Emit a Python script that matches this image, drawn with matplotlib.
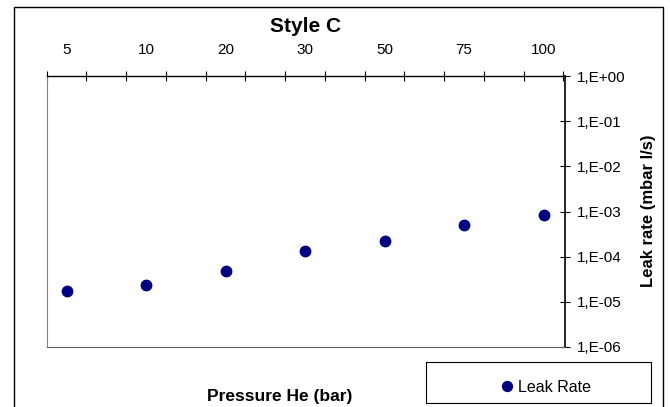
import numpy as np
import matplotlib
matplotlib.use("Agg")
import matplotlib.pyplot as plt
from matplotlib.patches import Rectangle
from matplotlib.ticker import FixedLocator, FuncFormatter, NullLocator

plt.rcParams['font.family'] = ['Liberation Sans', 'DejaVu Sans']

# data
pressures = ['5', '10', '20', '30', '50', '75', '100']
leak_rate = [1.71e-5, 2.41e-5, 4.73e-5, 1.31e-4, 2.18e-4, 5.08e-4, 8.17e-4]
decades = [1e-6, 1e-5, 1e-4, 1e-3, 1e-2, 1e-1, 1e0]

W, H = 670, 407
fig = plt.figure(figsize=(W / 100, H / 100), dpi=100)

# outer chart border
fig.patches.append(Rectangle((14 / W, -0.02), (663 - 14) / W, 1 - 7 / H + 0.02,
                             transform=fig.transFigure, fill=False,
                             edgecolor='black', linewidth=1.0))

ax = fig.add_axes([46.7 / W, 60 / H, (565 - 46.7) / W, (347 - 76) / H])
x = np.arange(len(pressures))
ax.plot(x, leak_rate, 'o', color='#000080', markersize=7.5, linestyle='none',
        label='Leak Rate', clip_on=False)

ax.set_yscale('log')
ax.set_ylim(1e-6, 1e0)
ax.set_xlim(-0.25, 6.27)

# category axis on top, ticks between categories
ax.xaxis.tick_top()
ax.xaxis.set_major_locator(FixedLocator(x))
ax.set_xticklabels(pressures)
ax.xaxis.set_minor_locator(FixedLocator(np.arange(-0.25, 6.3, 0.5)))
ax.tick_params(axis='x', which='major', length=0, pad=13.5, labelsize=11)
ax.tick_params(axis='x', which='minor', direction='inout', length=7, width=0.8)

# value axis on right
ax.yaxis.tick_right()
ax.yaxis.set_major_locator(FixedLocator(decades))
ax.yaxis.set_minor_locator(NullLocator())
ax.yaxis.set_major_formatter(FuncFormatter(lambda v, p: "1,E%+03d" % int(round(np.log10(v)))))
ax.tick_params(axis='y', direction='inout', length=7, width=0.8, labelsize=11, pad=5)

ax.spines['left'].set_color('#808080')
ax.spines['bottom'].set_color('#606060')
ax.spines['top'].set_linewidth(1.0)
ax.spines['right'].set_linewidth(1.2)

fig.text(306 / W, 1 - 27 / H, 'Style C', ha='center', va='center',
         fontsize=15, fontweight='bold')
fig.text(280 / W, 1 - 396 / H, 'Pressure He (bar)', ha='center', va='center',
         fontsize=12.5, fontweight='bold')
fig.text(649 / W, 1 - 211 / H, 'Leak rate (mbar l/s)', ha='center', va='center',
         rotation=90, fontsize=12, fontweight='bold')

# legend box
fig.patches.append(Rectangle((426 / W, 1 - 403 / H), (651 - 426) / W, 41 / H,
                             transform=fig.transFigure, fill=False,
                             edgecolor='black', linewidth=0.8))
fig.legend(loc='center', bbox_to_anchor=(545 / W, 1 - 387 / H), frameon=False,
           fontsize=11.5, handletextpad=0.2, handlelength=1.0, markerscale=0.95)

fig.savefig('out.png', dpi=100)
